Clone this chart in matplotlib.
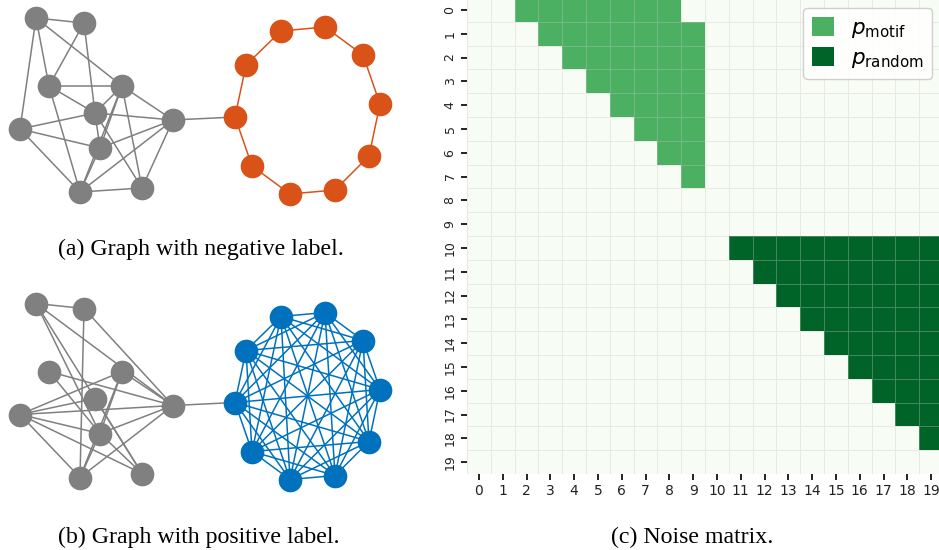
import numpy as np
import matplotlib
matplotlib.use("Agg")
import matplotlib.pyplot as plt
from matplotlib.colors import ListedColormap
from matplotlib.patches import Patch

# ---------------- graph data (layout units) ----------------
gray_x = [36, 84, 49, 122, 95, 20, 173, 100, 80, 142]
gray_y = [18, 23, 86, 86, 113, 129, 120, 148, 192, 188]
ring_x = [281, 325, 363, 380, 369, 335, 290, 252, 235, 246]
ring_y = [31, 27, 55, 104, 156, 190, 194, 166, 117, 65]

edges_neg = [(0, 1), (0, 5), (0, 2), (0, 3), (1, 2), (1, 4), (2, 3), (2, 4),
             (2, 8), (3, 4), (3, 6), (3, 7), (3, 9), (3, 8), (4, 5), (4, 6),
             (4, 7), (4, 9), (5, 7), (5, 8), (6, 7), (6, 8), (6, 9), (7, 8),
             (8, 9)]
edges_pos = [(0, 1), (0, 7), (0, 9), (0, 6), (1, 8), (1, 6), (2, 6), (2, 7),
             (3, 5), (3, 6), (3, 8), (3, 7), (4, 5), (5, 6), (5, 7), (5, 8),
             (5, 9), (6, 7), (6, 8), (7, 8), (7, 9), (4, 9)]
ring_neg = [(i, (i + 1) % 10) for i in range(10)]
ring_pos = [(i, j) for i in range(10) for j in range(i + 1, 10)]
bridge = (6, 8)

panel_offsets = [0, 285.5]
captions = ["(a) Graph with negative label.", "(b) Graph with positive label.",
            "(c) Noise matrix."]

# ---------------- matrix data ----------------
n = 20
motif_rows = [0, 1, 2, 3, 4, 5, 6, 7]
motif_first = [2, 3, 4, 5, 6, 7, 8, 9]
motif_last = [8, 9, 9, 9, 9, 9, 9, 9]
random_rows = [10, 11, 12, 13, 14, 15, 16, 17, 18]
random_first = [11, 12, 13, 14, 15, 16, 17, 18, 19]
random_last = [19, 19, 19, 19, 19, 19, 19, 19, 19]
tick_labels = [str(i) for i in range(n)]

GRAY = "#808080"
ORANGE = "#d95319"
BLUE = "#0072bd"

fig = plt.figure(figsize=(9.39, 5.5), dpi=100)

# ---------------- graphs ----------------
axg = fig.add_axes([0, 0, 440 / 939, 1])
axg.set_xlim(0, 440)
axg.set_ylim(550, 0)
axg.axis("off")

for off, gedges, redges, rcol in [(panel_offsets[0], edges_neg, ring_neg, ORANGE),
                                  (panel_offsets[1], edges_pos, ring_pos, BLUE)]:
    gy = [y + off for y in gray_y]
    ry = [y + off for y in ring_y]
    for i, j in gedges:
        axg.plot([gray_x[i], gray_x[j]], [gy[i], gy[j]], color=GRAY, lw=1.1,
                 zorder=1, solid_capstyle="round")
    for i, j in redges:
        axg.plot([ring_x[i], ring_x[j]], [ry[i], ry[j]], color=rcol, lw=1.1,
                 zorder=1, solid_capstyle="round")
    axg.plot([gray_x[bridge[0]], ring_x[bridge[1]]], [gy[bridge[0]], ry[bridge[1]]],
             color=GRAY, lw=1.1, zorder=1)
    axg.scatter(gray_x, gy, s=290, color=GRAY, zorder=3, linewidths=0)
    axg.scatter(ring_x, ry, s=290, color=rcol, zorder=3, linewidths=0)

# ---------------- matrix ----------------
M = np.zeros((n, n))
for r, a, b in zip(motif_rows, motif_first, motif_last):
    M[r, a:b + 1] = 1
for r, a, b in zip(random_rows, random_first, random_last):
    M[r, a:b + 1] = 2

greens = plt.get_cmap("Greens")
cmap = ListedColormap([greens(0.0), greens(0.6), greens(0.9)])

ax = fig.add_axes([467 / 939, 76 / 550, 476 / 939, 476 / 550])
ax.pcolormesh(np.arange(n + 1), np.arange(n + 1), M, cmap=cmap, vmin=-0.5, vmax=2.5,
              edgecolors=(0.78, 0.78, 0.78, 0.35), linewidth=0.6)
ax.set_xlim(0, n)
ax.set_ylim(n, 0)
for s in ax.spines.values():
    s.set_visible(False)
ax.set_xticks(np.arange(n) + 0.5)
ax.set_xticklabels(tick_labels, fontsize=10)
ax.set_yticks(np.arange(n) + 0.5)
ax.set_yticklabels(tick_labels, fontsize=9, rotation=90, va="center")
ax.tick_params(length=4.5, width=1.4, color="#222222", labelcolor="#222222", pad=3)

handles = [Patch(facecolor=greens(0.6), edgecolor="none"),
           Patch(facecolor=greens(0.9), edgecolor="none")]
leg = ax.legend(handles, [r"$p_{\mathrm{motif}}$", r"$p_{\mathrm{random}}$"],
                loc="upper right", bbox_to_anchor=(0.977, 0.979), fontsize=15.5,
                borderaxespad=0.0,
                handlelength=1.0, handleheight=1.0, handletextpad=0.8,
                borderpad=0.4, labelspacing=0.35, framealpha=0.9, fancybox=True,
                edgecolor="#cccccc")

# ---------------- captions ----------------
cap_font = dict(family="Liberation Serif", fontsize=17.2, color="black",
                ha="center", va="center")
fig.text(201 / 939, 1 - 249 / 550, captions[0], **cap_font)
fig.text(199 / 939, 1 - 537 / 550, captions[1], **cap_font)
fig.text(692 / 939, 1 - 537 / 550, captions[2], **cap_font)

fig.savefig("out.png", dpi=100)
